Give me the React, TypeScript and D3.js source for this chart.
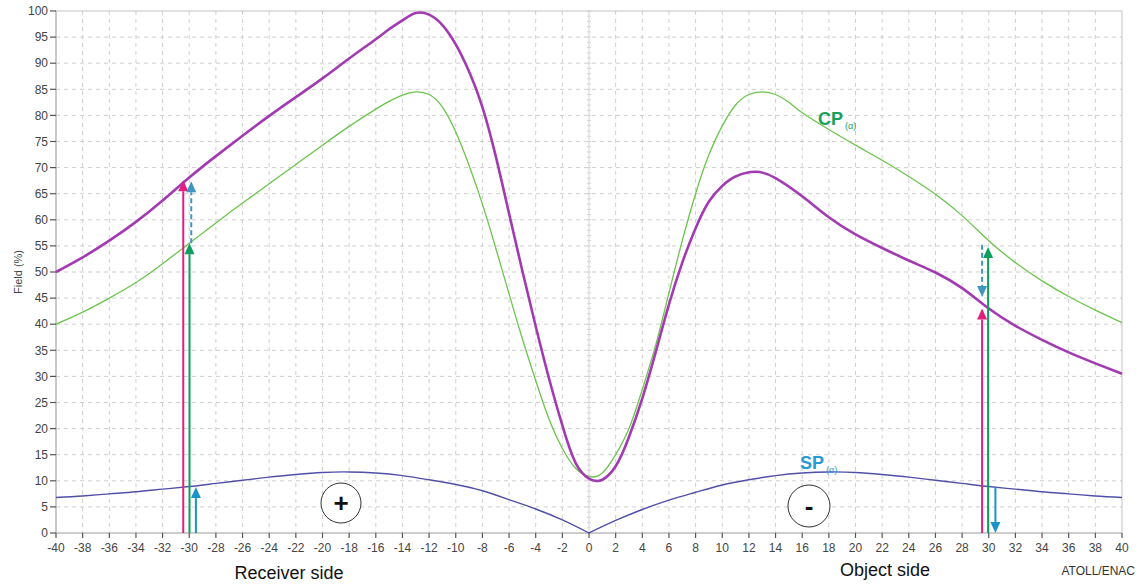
import React from "react";
import * as d3 from "d3";

// Azimuth (degrees) and field values (%)
const magentaX = [-40, -38, -36, -34, -32, -30, -28, -26, -24, -22, -20, -18, -16, -15, -14, -13, -12, -11, -10, -9, -8, -7, -6, -5, -4, -3, -2, -1, 0, 0.5, 1, 2, 3, 4, 5, 6, 7, 8, 9, 10, 11, 12.5, 14, 16, 18, 20, 22, 24, 26, 28, 30, 32, 34, 36, 38, 40];
const magentaY = [50, 52.8, 56, 59.6, 63.7, 68.1, 72.2, 76.1, 79.9, 83.5, 87.1, 90.9, 94.6, 96.5, 98.2, 99.6, 99.3, 97.3, 93.6, 88.4, 81.6, 72.2, 61.2, 50.2, 39.6, 29.6, 20.6, 13.4, 10.4, 10, 10.2, 12.8, 18.4, 25.8, 34.6, 43.8, 51.8, 58.4, 63.5, 66.5, 68.3, 69.2, 68, 64.5, 60.5, 57.2, 54.6, 52.2, 49.9, 46.9, 43, 39.7, 37, 34.6, 32.5, 30.5];

const cpX = [-40, -38, -36, -34, -32, -30, -28, -26, -24, -22, -20, -18, -16, -15, -14, -13, -12, -11, -10, -9, -8, -7, -6, -5, -4, -3, -2, -1, 0, 1, 2, 3, 4, 5, 6, 7, 8, 9, 10, 11, 12, 13, 14, 15, 16, 18, 20, 22, 24, 26, 28, 30, 32, 34, 36, 38, 40];
const cpY = [40, 42.3, 45, 48, 51.6, 55.5, 59.4, 63.2, 66.9, 70.6, 74.3, 77.9, 81.2, 82.7, 83.9, 84.5, 84, 81.6, 76.8, 70.4, 63, 54.6, 45.8, 37.2, 29.2, 21.8, 16.2, 12.4, 10.8, 11.5, 15, 20, 27.5, 36, 46, 56, 65, 72.5, 78, 82, 84, 84.5, 84, 82.5, 80.5, 77.3, 74.3, 71.4, 68.3, 64.9, 60.8, 56, 51.8, 48.3, 45.3, 42.7, 40.3];

const spX = [-40, -38, -36, -34, -32, -30, -28, -26, -24, -22, -20, -18, -16, -14, -12, -10, -8, -6, -4, -2, 0, 2, 4, 6, 8, 10, 12, 14, 16, 18, 20, 22, 24, 26, 28, 30, 32, 34, 36, 38, 40];
const spY = [6.8, 7.1, 7.5, 7.9, 8.4, 8.9, 9.5, 10.1, 10.7, 11.2, 11.6, 11.7, 11.5, 11.0, 10.2, 9.3, 8.1, 6.4, 4.6, 2.5, 0, 2.4, 4.5, 6.3, 7.8, 9.2, 10.2, 11.0, 11.5, 11.7, 11.6, 11.2, 10.7, 10.1, 9.5, 8.9, 8.4, 7.9, 7.5, 7.1, 6.8];

// Arrows: azimuth, start value, end value
const arrowX = [-30.45, -29.98, -29.85, -29.5, 29.5, 29.95, 29.5, 30.5];
const arrowFrom = [0, 0, 55.5, 0, 0, 0, 55.2, 8.8];
const arrowTo = [67.6, 55.5, 67.4, 8.8, 43, 54.8, 45.2, 0];
const arrowKind = ["total", "cp", "diff", "sp", "total", "cp", "diff", "sp"];

const xTicks = d3.range(-40, 41, 2);
const yTicks = d3.range(0, 101, 5);

const W = 1141;
const H = 585;

export default function App() {
  const x = d3.scaleLinear().domain([-40, 40]).range([56, 1122]);
  const y = d3.scaleLinear().domain([0, 100]).range([533, 11]);

  const line = (xs: number[], ys: number[]) =>
    d3
      .line<number>()
      .x((_, i) => x(xs[i]))
      .y((v) => y(v))
      .curve(d3.curveNatural)(ys) || "";

  // SP has a sharp notch at zero azimuth: draw each side on its own
  const spMid = spX.indexOf(0);
  const spLeft = line(spX.slice(0, spMid + 1), spY.slice(0, spMid + 1));
  const spRight = line(spX.slice(spMid), spY.slice(spMid));

  const font = "'Liberation Sans', Arial, sans-serif";
  const gridColor = "#cfcfcf";

  const arrowColor: Record<string, string> = {
    total: "#e0207e",
    cp: "#0f9e5c",
    diff: "#3d98c4",
    sp: "#1a94c8",
  };

  const arrows = arrowX.map((ax, i) => {
    const px = x(ax);
    const y0 = y(arrowFrom[i]);
    const y1 = y(arrowTo[i]);
    const dir = y1 < y0 ? -1 : 1; // -1 means pointing up
    const head = 11;
    const half = 5;
    const color = arrowColor[arrowKind[i]];
    const dashed = arrowKind[i] === "diff";
    const shaftEnd = y1 - dir * head;
    return (
      <g key={i}>
        <line
          x1={px}
          x2={px}
          y1={y0}
          y2={shaftEnd}
          stroke={color}
          strokeWidth={2}
          strokeDasharray={dashed ? "5,3" : undefined}
        />
        <path
          d={`M${px},${y1} L${px - half},${y1 - dir * head} L${px + half},${y1 - dir * head} Z`}
          fill={color}
        />
      </g>
    );
  });

  // small ticks on the zero-azimuth axis
  const minor = d3.range(0, 101, 1);

  return (
    <svg
      width={W}
      height={H}
      style={{ position: "absolute", left: 0, top: 0, background: "#fff" }}
      fontFamily={font}
    >
      <rect x={0} y={0} width={W} height={H} fill="#fff" />
      {/* grid */}
      {xTicks.map((t) =>
        t === -40 || t === 40 || t === 0 ? null : (
          <line key={"gx" + t} x1={x(t)} x2={x(t)} y1={y(100)} y2={y(0)} stroke={gridColor} strokeDasharray="4,4" strokeWidth={1} />
        )
      )}
      {yTicks.map((t) =>
        t === 0 || t === 100 ? null : (
          <line key={"gy" + t} x1={x(-40)} x2={x(40)} y1={y(t)} y2={y(t)} stroke={gridColor} strokeDasharray="4,4" strokeWidth={1} />
        )
      )}
      {/* zero axis */}
      <line x1={x(0)} x2={x(0)} y1={y(100)} y2={y(0)} stroke="#d4d4d4" strokeWidth={1} />
      {minor.map((m) => (
        <line key={"m" + m} x1={x(0) - 2} x2={x(0) + 2} y1={y(m)} y2={y(m)} stroke="#d4d4d4" strokeWidth={1} />
      ))}
      {/* frame */}
      <rect x={x(-40)} y={y(100)} width={x(40) - x(-40)} height={y(0) - y(100)} fill="none" stroke="#c4c4c4" strokeWidth={1} />
      <line x1={x(-40)} x2={x(40)} y1={y(0)} y2={y(0)} stroke="#b8b8b8" strokeWidth={1.2} />
      <line x1={x(-40)} x2={x(-40)} y1={y(0)} y2={y(100)} stroke="#b8b8b8" strokeWidth={1.2} />

      {/* y axis */}
      {yTicks.map((t) => (
        <g key={"yt" + t}>
          <line x1={x(-40) - 6} x2={x(-40)} y1={y(t)} y2={y(t)} stroke="#555" strokeWidth={1.2} />
          <text x={x(-40) - 8} y={y(t)} dy="0.35em" textAnchor="end" fontSize={12} fill="#444">
            {t}
          </text>
        </g>
      ))}
      {/* x axis */}
      {xTicks.map((t) => (
        <g key={"xt" + t}>
          <line x1={x(t)} x2={x(t)} y1={y(0)} y2={y(0) + 5} stroke="#555" strokeWidth={1.2} />
          <text x={x(t)} y={y(0) + 19} textAnchor="middle" fontSize={12} fill="#444">
            {t}
          </text>
        </g>
      ))}
      <text transform={`translate(22,${y(50)}) rotate(-90)`} textAnchor="middle" fontSize={11} fill="#444">
        Field (%)
      </text>

      {/* curves */}
      <path d={spLeft} fill="none" stroke="#5050a8" strokeWidth={1.4} />
      <path d={spRight} fill="none" stroke="#5050a8" strokeWidth={1.4} />
      <path d={line(cpX, cpY)} fill="none" stroke="#6cc44c" strokeWidth={1.3} />
      <path d={line(magentaX, magentaY)} fill="none" stroke="#a23ab2" strokeWidth={2.6} />

      {arrows}

      {/* series labels */}
      <text x={818} y={125} fontSize={18} fontWeight="bold" fill="#17a05a">
        CP
        <tspan fontSize={9} fontWeight="normal" dy={4} dx={2}>(α)</tspan>
      </text>
      <text x={800} y={469} fontSize={18} fontWeight="bold" fill="#2a9ad2">
        SP
        <tspan fontSize={9} fontWeight="normal" dy={4} dx={2}>(α)</tspan>
      </text>

      {/* side markers */}
      <circle cx={341} cy={503} r={20} fill="#fff" stroke="#333" strokeWidth={1} />
      <text x={341} y={503} dy="0.36em" textAnchor="middle" fontSize={26} fontWeight="bold" fill="#111">+</text>
      <circle cx={809} cy={506} r={21} fill="#fff" stroke="#333" strokeWidth={1} />
      <text x={809} y={506} dy="0.36em" textAnchor="middle" fontSize={26} fontWeight="bold" fill="#111">-</text>

      <text x={289} y={579} textAnchor="middle" fontSize={18} fill="#111">Receiver side</text>
      <text x={885} y={576} textAnchor="middle" fontSize={18} fill="#111">Object side</text>
      <text x={1135} y={575} textAnchor="end" fontSize={12} fill="#333">ATOLL/ENAC</text>
    </svg>
  );
}
